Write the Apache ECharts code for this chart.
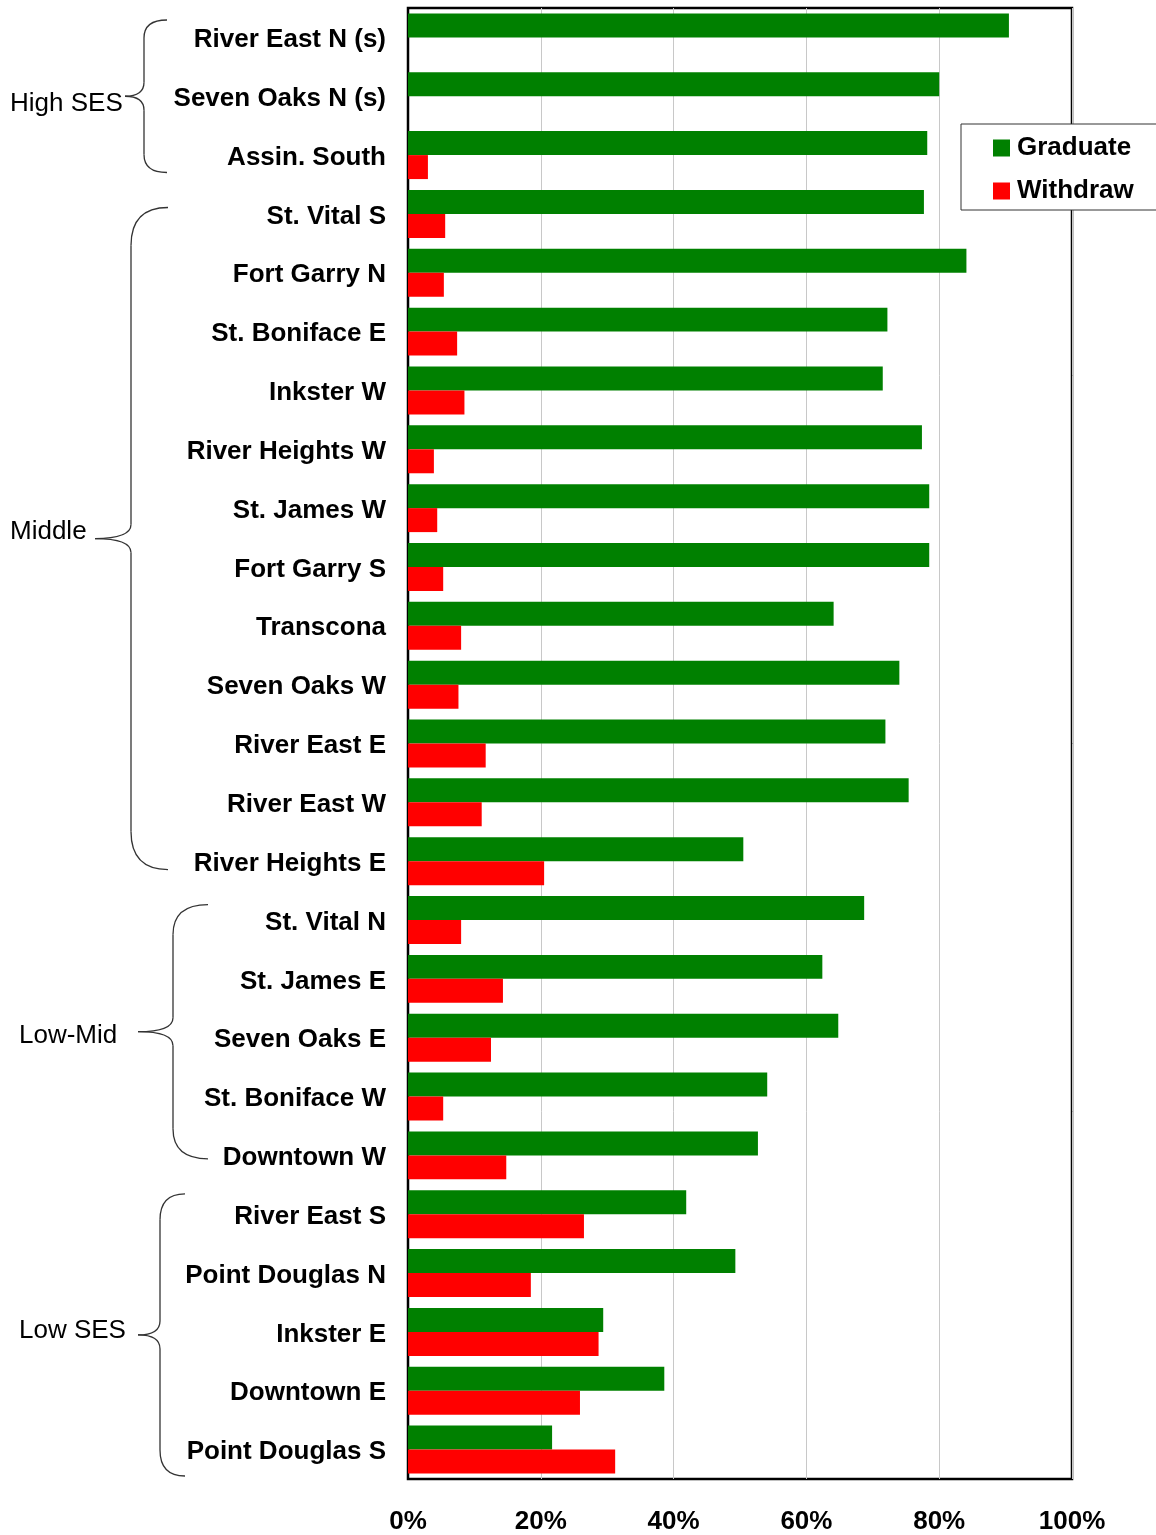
<!DOCTYPE html>
<html>
<head>
<meta charset="utf-8">
<script src="https://cdn.jsdelivr.net/npm/echarts@6/dist/echarts.min.js"></script>
<style>
html,body{margin:0;padding:0;background:#fff;}
#main{width:1156px;height:1535px;}
</style>
</head>
<body>
<div id="main"></div>
<script>
const categories = [
  'River East N (s)', 'Seven Oaks N (s)', 'Assin. South',
  'St. Vital S', 'Fort Garry N', 'St. Boniface E', 'Inkster W', 'River Heights W',
  'St. James W', 'Fort Garry S', 'Transcona', 'Seven Oaks W', 'River East E',
  'River East W', 'River Heights E',
  'St. Vital N', 'St. James E', 'Seven Oaks E', 'St. Boniface W', 'Downtown W',
  'River East S', 'Point Douglas N', 'Inkster E', 'Downtown E', 'Point Douglas S'
];
const graduate = [
  90.5, 80.0, 78.2,
  77.7, 84.1, 72.2, 71.5, 77.4, 78.5, 78.5, 64.1, 74.0, 71.9, 75.4, 50.5,
  68.7, 62.4, 64.8, 54.1, 52.7,
  41.9, 49.3, 29.4, 38.6, 21.7
];
const withdraw = [
  0, 0, 3.0,
  5.6, 5.4, 7.4, 8.5, 3.9, 4.4, 5.3, 8.0, 7.6, 11.7, 11.1, 20.5,
  8.0, 14.3, 12.5, 5.3, 14.8,
  26.5, 18.5, 28.7, 25.9, 31.2
];
const xTicks = [0, 20, 40, 60, 80, 100];
const groupNames = ['High SES', 'Middle', 'Low-Mid', 'Low SES'];
const groupStart = [0, 3, 15, 20];
const groupEnd = [2, 14, 19, 24];

// brace layout (annotation styling)
const braceLayout = [
  {xEnd: 167, xV: 144, xTip: 125, topIn: 12, botIn: 12, r: 18, labelX: 10, labelDy: 8},
  {xEnd: 168, xV: 131, xTip: 95,  topIn: 23, botIn: 21, r: 38, labelX: 10, labelDy: -7},
  {xEnd: 208, xV: 173, xTip: 138, topIn: 14, botIn: 26, r: 30, labelX: 19, labelDy: 4},
  {xEnd: 185, xV: 160, xTip: 138, topIn: 9,  botIn: 3,  r: 26, labelX: 19, labelDy: -4}
];

const FONT = '"Liberation Sans", Arial, Helvetica, sans-serif';
const chart = echarts.init(document.getElementById('main'), null, {renderer: 'canvas'});

chart.setOption({
  backgroundColor: '#fff',
  animation: false,
  grid: {
    left: 408, right: 84, top: 8, bottom: 55,
    show: true, borderColor: '#000', borderWidth: 2.5, backgroundColor: 'transparent'
  },
  legend: {
    orient: 'vertical',
    left: 961, top: 124,
    backgroundColor: '#fff',
    borderColor: '#333', borderWidth: 1,
    padding: [11, 40, 6, 32],
    itemGap: 17,
    itemWidth: 17, itemHeight: 17,
    icon: 'rect',
    textStyle: {fontFamily: FONT, fontSize: 26, fontWeight: 'bold', color: '#000', padding: [0, 0, 0, 2]},
    data: ['Graduate', 'Withdraw']
  },
  xAxis: {
    type: 'value', min: 0, max: 100, interval: 20,
    axisLine: {show: false},
    axisTick: {show: false},
    splitLine: {show: true, lineStyle: {color: '#c8c8c8', width: 1}},
    axisLabel: {
      fontFamily: FONT, fontSize: 26, fontWeight: 'bold', color: '#000', margin: 30,
      formatter: v => xTicks.indexOf(v) >= 0 ? v + '%' : ''
    }
  },
  yAxis: {
    type: 'category', data: categories, inverse: true,
    axisLine: {show: true, lineStyle: {color: '#000', width: 2}},
    axisTick: {show: false},
    axisLabel: {
      margin: 22,
      formatter: v => '{a|' + v + '}',
      rich: {a: {fontFamily: FONT, fontSize: 26, fontWeight: 'bold', color: '#000', padding: [5, 0, 0, 0]}}
    }
  },
  series: [
    {name: 'Graduate', type: 'bar', data: graduate, barGap: '0%', barCategoryGap: '18.5%',
     itemStyle: {color: '#008000'}},
    {name: 'Withdraw', type: 'bar', data: withdraw, barGap: '0%', barCategoryGap: '18.5%',
     itemStyle: {color: '#ff0000'}}
  ]
});

// braces
const graphics = [];
const c0 = chart.convertToPixel({yAxisIndex: 0}, 0);
const c1 = chart.convertToPixel({yAxisIndex: 0}, 1);
const band = c1 - c0;
const lineStyle = {stroke: '#333', lineWidth: 1.3, fill: 'none'};
groupNames.forEach((name, i) => {
  const L = braceLayout[i];
  const y0 = chart.convertToPixel({yAxisIndex: 0}, groupStart[i]) - band / 2 + L.topIn;
  const y1 = chart.convertToPixel({yAxisIndex: 0}, groupEnd[i]) + band / 2 - L.botIn;
  const m = (y0 + y1) / 2;
  const r = L.r;
  const rt = 14;
  graphics.push(
    {type: 'bezierCurve', shape: {x1: L.xEnd, y1: y0, cpx1: L.xV, cpy1: y0, x2: L.xV, y2: y0 + r}, style: lineStyle, silent: true},
    {type: 'line', shape: {x1: L.xV, y1: y0 + r, x2: L.xV, y2: m - rt}, style: lineStyle, silent: true},
    {type: 'bezierCurve', shape: {x1: L.xV, y1: m - rt, cpx1: L.xV, cpy1: m, x2: L.xTip, y2: m}, style: lineStyle, silent: true},
    {type: 'bezierCurve', shape: {x1: L.xTip, y1: m, cpx1: L.xV, cpy1: m, x2: L.xV, y2: m + rt}, style: lineStyle, silent: true},
    {type: 'line', shape: {x1: L.xV, y1: m + rt, x2: L.xV, y2: y1 - r}, style: lineStyle, silent: true},
    {type: 'bezierCurve', shape: {x1: L.xV, y1: y1 - r, cpx1: L.xV, cpy1: y1, x2: L.xEnd, y2: y1}, style: lineStyle, silent: true},
    {type: 'text', x: L.labelX, y: m + L.labelDy, silent: true,
     style: {text: name, fontFamily: FONT, fontSize: 26, fill: '#000', verticalAlign: 'middle', align: 'left'}}
  );
});
chart.setOption({graphic: graphics});
</script>
</body>
</html>
